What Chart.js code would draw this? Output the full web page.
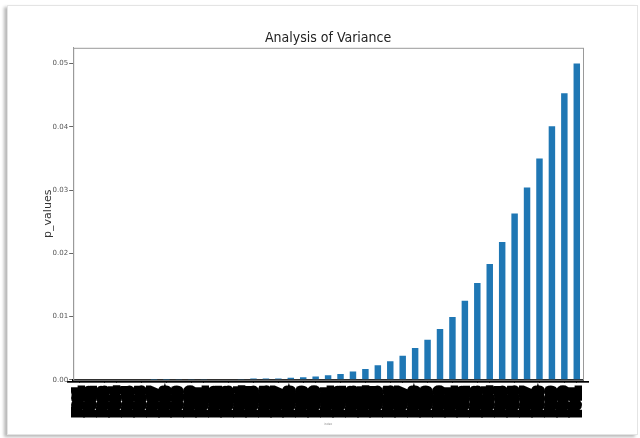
<!DOCTYPE html>
<html>
<head>
<meta charset="utf-8">
<script src="https://cdn.jsdelivr.net/npm/chart.js@4.4.1/dist/chart.umd.min.js"></script>
<style>
  html, body { margin: 0; padding: 0; background: #fff; }
  #sheet {
    position: absolute; left: 7px; top: 5px; width: 629px; height: 428px;
    background: #fff; border: 1px solid #e4e4e4;
    box-shadow: -3px 2px 3px rgba(0, 0, 0, .28);
  }
  #chart { position: absolute; left: 0; top: 0; }
</style>
</head>
<body>
<div id="sheet"></div>
<canvas id="chart" width="640" height="438"></canvas>
<script>

  // categories (x tick labels, unreadable in the picture)
  const variables = [
    'F001', 'F002', 'F003', 'F004', 'F005', 'F006', 'F007', 'F008', 'F009', 'F010',
    'F011', 'F012', 'F013', 'F014', 'F015', 'F016', 'F017', 'F018', 'F019', 'F020',
    'F021', 'F022', 'F023', 'F024', 'F025', 'F026', 'F027', 'F028', 'F029', 'F030',
    'F031', 'F032', 'F033', 'F034', 'F035', 'F036', 'F037', 'F038', 'F039', 'F040',
    'F041'
  ];

  // p values, sorted ascending
  const pValues = [
    0, 0, 0, 0, 0, 0, 0.00001, 0.00001, 0.00002, 0.00003,
    0.00004, 0.00006, 0.00008, 0.00012, 0.0002, 0.0002, 0.0002, 0.0003, 0.0004, 0.0005,
    0.0007, 0.0009, 0.0013, 0.0017, 0.0023, 0.0029, 0.0038, 0.0050, 0.0063, 0.0080,
    0.0099, 0.0125, 0.0153, 0.0183, 0.0218, 0.0263, 0.0304, 0.0350, 0.0401, 0.0453,
    0.0500
  ];

  const yTicks = [0, 0.01, 0.02, 0.03, 0.04, 0.05];

  Chart.defaults.font.family = "'DejaVu Sans', sans-serif";

  // matplotlib style frame round the plot area
  const frame = {
    id: 'frame',
    beforeDatasetsDraw(chart) {
      let { ctx, chartArea: a } = chart;
      ctx.save();
      ctx.strokeStyle = '#9a9a9a';
      ctx.lineWidth = 1;
      ctx.strokeRect(a.left + .5, a.top + .5, a.right - a.left, a.bottom - a.top);
      ctx.restore();
    }
  };

  /** @type {CanvasRenderingContext2D} */
  let canvas = document.getElementById('chart').getContext('2d');

  let anovaChart = new Chart(canvas, {
    type: 'bar',
    data: {
      labels: variables,
      datasets: [{
        label: 'p_values',
        backgroundColor: '#1f77b4',
        data: pValues,
        barPercentage: .52,
        categoryPercentage: 1
      }]
    },
    options: {
      responsive: false,
      animation: false,
      layout: { padding: { top: 30, left: 45, right: 57, bottom: 12 } },
      plugins: {
        legend: { display: false },
        tooltip: { enabled: false },
        title: {
          display: true,
          fullSize: false,
          text: 'Analysis of Variance',
          color: '#222',
          font: { family: "'Liberation Sans Narrow', 'DejaVu Sans Condensed', 'DejaVu Sans'", size: 14, weight: 'normal' },
          padding: { top: 0, bottom: 1 }
        }
      },
      scales: {
        x: {
          border: { color: '#000', width: 2 },
          grid: { drawOnChartArea: false, color: '#000', tickLength: 3, tickWidth: 13 },
          ticks: {
            autoSkip: false, minRotation: 90, maxRotation: 90, padding: 5,
            color: '#000', textStrokeColor: '#000', textStrokeWidth: 6,
            font: { size: 10, weight: 'bold' }
          },
          title: { display: true, text: 'index', color: '#888', font: { size: 3 }, padding: { top: 2, bottom: 0 } }
        },
        y: {
          min: 0, max: 0.0525,
          afterBuildTicks: (scale) => { scale.ticks = yTicks.map(v => ({ value: v })); },
          border: { color: '#9a9a9a' },
          grid: { drawOnChartArea: false, color: '#666', tickLength: 4 },
          ticks: { color: '#555', padding: 1, font: { size: 7 }, callback: (v) => v.toFixed(2) },
          title: { display: true, text: 'p_values', color: '#333', font: { size: 11, lineHeight: .6 }, padding: 0 }
        }
      }
    },
    plugins: [frame]
  });

</script>
</body>
</html>
